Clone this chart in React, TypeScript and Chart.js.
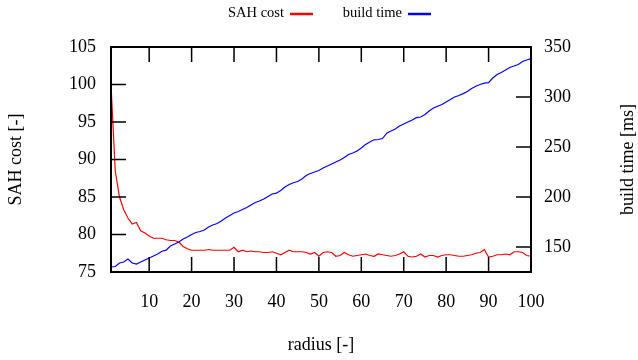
import React, { useEffect, useRef } from "react";
import { Chart, registerables } from "chart.js";

Chart.register(...registerables);

// ---- data ----
const radius = Array.from({ length: 100 }, (_, i) => i + 1);

const sahCost = [
  100, 88.5, 85, 83.3, 82.2, 81.4, 81.6, 80.5, 80.2, 79.8,
  79.5, 79.5, 79.5, 79.3, 79.2, 79.2, 79.0, 78.4, 78.1, 77.9,
  77.9, 77.9, 77.9, 78.0, 77.9, 77.9, 77.9, 77.9, 77.9, 78.3,
  77.7, 77.9, 77.7, 77.8, 77.7, 77.7, 77.6, 77.6, 77.7, 77.5,
  77.3, 77.6, 77.9, 77.7, 77.7, 77.7, 77.6, 77.4, 77.6, 77.1,
  77.6, 77.7, 77.6, 77.1, 77.2, 77.6, 77.3, 77.1, 77.2, 77.3,
  77.4, 77.2, 77.1, 77.4, 77.3, 77.2, 77.1, 77.2, 77.4, 77.7,
  77.1, 77.0, 77.1, 77.4, 77.0, 77.2, 77.2, 77.0, 77.2, 77.3,
  77.3, 77.2, 77.1, 77.1, 77.2, 77.3, 77.5, 77.6, 78.0, 77.0,
  77.1, 77.3, 77.3, 77.4, 77.3, 77.7, 77.7, 77.6, 77.2, 77.1,
];

const buildTime = [
  130, 130.5, 134, 135, 138, 134, 133, 135, 137, 139,
  141, 143, 145.8, 146.8, 151, 153, 155, 158, 160, 162.5,
  164.5, 165.5, 167, 170, 172, 173.5, 176, 179, 181.5, 184,
  185.5, 187.5, 189.5, 192, 194.5, 196, 198, 200.5, 203, 203.8,
  206.5, 210, 212.5, 214.3, 215.5, 218, 221.5, 223.5, 225, 226.5,
  229, 231, 233, 235, 237, 239.5, 242.5, 244, 246, 249,
  252.5, 255, 257.2, 257.5, 258.5, 263.8, 266, 268, 271, 273,
  275, 277, 279.3, 280, 282.5, 286, 289, 290.8, 292.5, 295,
  297.5, 300, 301.5, 303.4, 305.5, 308.5, 310.8, 312.5, 313.8, 314.3,
  319, 322.5, 324.5, 327, 329.5, 331, 332.5, 335.5, 337, 338.5,
];

const xTicks = [10, 20, 30, 40, 50, 60, 70, 80, 90, 100];
const leftTicks = [75, 80, 85, 90, 95, 100, 105];
const rightTicks = [150, 200, 250, 300, 350];

const seriesLabels = ["SAH cost", "build time"];
const seriesColors = ["#ff0000", "#0000ff"];
const xTitle = "radius [-]";
const leftTitle = "SAH cost [-]";
const rightTitle = "build time [ms]";

const FONT_FAMILY = "'Liberation Serif', 'Times New Roman', serif";
const axisFont = { family: FONT_FAMILY, size: 18 };

const framePlugin = {
  id: "gnuplotFrame",
  afterDatasetsDraw(chart: any) {
    const { ctx, chartArea, scales } = chart;
    const { left, right, top, bottom } = chartArea;
    const T = 15;
    ctx.save();
    ctx.strokeStyle = "#000";
    ctx.lineWidth = 1.5;
    ctx.beginPath();
    scales.x.ticks.forEach((t: any) => {
      const px = scales.x.getPixelForValue(t.value);
      ctx.moveTo(px, bottom);
      ctx.lineTo(px, bottom - T);
      ctx.moveTo(px, top);
      ctx.lineTo(px, top + T);
    });
    scales.y.ticks.forEach((t: any) => {
      const py = scales.y.getPixelForValue(t.value);
      ctx.moveTo(left, py);
      ctx.lineTo(left + T, py);
    });
    scales.y1.ticks.forEach((t: any) => {
      const py = scales.y1.getPixelForValue(t.value);
      ctx.moveTo(right, py);
      ctx.lineTo(right - T, py);
    });
    ctx.stroke();
    ctx.lineWidth = 2;
    ctx.strokeRect(left, top, right - left, bottom - top);
    ctx.restore();
  },
  afterDraw(chart: any) {
    const { ctx, chartArea } = chart;
    ctx.save();
    // right axis title, rotated like the left one
    ctx.fillStyle = "#000";
    ctx.font = `${axisFont.size}px ${FONT_FAMILY}`;
    ctx.translate(628, (chartArea.top + chartArea.bottom) / 2);
    ctx.rotate(-Math.PI / 2);
    ctx.textAlign = "center";
    ctx.textBaseline = "middle";
    ctx.fillText(rightTitle, 0, 0);
    ctx.restore();

    // legend: text then line sample
    ctx.save();
    ctx.font = `14.5px ${FONT_FAMILY}`;
    ctx.fillStyle = "#000";
    ctx.textAlign = "right";
    ctx.textBaseline = "middle";
    const anchors = [284, 402];
    chart.data.datasets.forEach((ds: any, i: number) => {
      const xr = anchors[i];
      ctx.fillText(ds.label, xr, 13);
      ctx.strokeStyle = ds.borderColor;
      ctx.lineWidth = 2.5;
      ctx.beginPath();
      ctx.moveTo(xr + 6, 14);
      ctx.lineTo(xr + 29, 14);
      ctx.stroke();
    });
    ctx.restore();
  },
};

export default function App() {
  const ref = useRef<HTMLCanvasElement | null>(null);

  useEffect(() => {
    if (!ref.current) return;
    const chart = new Chart(ref.current, {
      type: "line",
      data: {
        datasets: [
          {
            label: seriesLabels[0],
            data: radius.map((r, i) => ({ x: r, y: sahCost[i] })),
            borderColor: seriesColors[0],
            backgroundColor: seriesColors[0],
            borderWidth: 1.2,
            pointRadius: 0,
            tension: 0,
            yAxisID: "y",
            order: 1,
          },
          {
            label: seriesLabels[1],
            data: radius.map((r, i) => ({ x: r, y: buildTime[i] })),
            borderColor: seriesColors[1],
            backgroundColor: seriesColors[1],
            borderWidth: 1.2,
            pointRadius: 0,
            tension: 0,
            yAxisID: "y1",
            order: 0,
          },
        ],
      },
      options: {
        responsive: false,
        animation: false,
        devicePixelRatio: 1,
        layout: { padding: { top: 47, left: 0, right: 0, bottom: 0 } },
        plugins: {
          legend: { display: false },
          tooltip: { enabled: false },
        },
        scales: {
          x: {
            type: "linear",
            position: "bottom",
            min: 1,
            max: 100,
            afterBuildTicks: (s: any) => {
              s.ticks = xTicks.map((v) => ({ value: v }));
            },
            afterFit: (s: any) => {
              s.height = 88;
            },
            grid: { display: false, drawTicks: false },
            border: { display: false },
            ticks: {
              padding: 19,
              font: axisFont,
              color: "#000",
              maxRotation: 0,
              autoSkip: false,
            },
            title: {
              display: true,
              text: xTitle,
              font: axisFont,
              color: "#000",
              padding: { top: 0, bottom: 4 },
            },
          },
          y: {
            type: "linear",
            position: "left",
            min: 75,
            max: 105,
            afterBuildTicks: (s: any) => {
              s.ticks = leftTicks.map((v) => ({ value: v }));
            },
            afterFit: (s: any) => {
              s.width = 111;
            },
            grid: { display: false, drawTicks: false },
            border: { display: false },
            ticks: { padding: 15, font: axisFont, color: "#000" },
            title: {
              display: true,
              text: leftTitle,
              font: axisFont,
              color: "#000",
              padding: { top: 5, bottom: 0 },
            },
          },
          y1: {
            type: "linear",
            position: "right",
            min: 125,
            max: 350,
            afterBuildTicks: (s: any) => {
              s.ticks = rightTicks.map((v) => ({ value: v }));
            },
            afterFit: (s: any) => {
              s.width = 107;
            },
            grid: { display: false, drawTicks: false },
            border: { display: false },
            ticks: { padding: 13, font: axisFont, color: "#000" },
            title: { display: false, text: rightTitle },
          },
        },
      },
      plugins: [framePlugin],
    } as any);
    return () => chart.destroy();
  }, []);

  return (
    <div style={{ position: "fixed", left: 0, top: 0, width: 638, height: 360, background: "#fff" }}>
      <canvas ref={ref} width={638} height={360} />
    </div>
  );
}
